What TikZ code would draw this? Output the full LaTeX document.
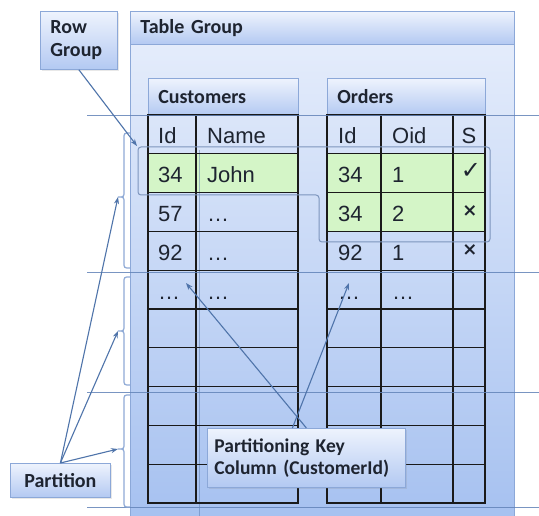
\documentclass[tikz,border=0pt]{standalone}
\usepackage{fontspec}
\setmainfont{Liberation Sans}
\newfontfamily\lblfont{Carlito}
\newfontfamily\symfont{DejaVu Sans}
\usetikzlibrary{arrows.meta,calc,shadows}
\definecolor{tgtop}{HTML}{E4ECFB}
\definecolor{tgbot}{HTML}{A6C1F0}
\definecolor{hdrtop}{HTML}{EEF3FD}
\definecolor{hdrbot}{HTML}{B3C9F2}
\definecolor{boxline}{HTML}{8CA8D8}
\definecolor{linkblue}{HTML}{4F74AA}
\definecolor{partblue}{HTML}{6283B8}
\definecolor{bracecol}{HTML}{8FAAD6}
\definecolor{rowgreen}{HTML}{D4F5C7}
\definecolor{gridcol}{HTML}{1A1A1A}
\definecolor{txtcol}{HTML}{1E2430}
\definecolor{rgline}{HTML}{7D95BD}
\tikzset{
  lblbox/.style={draw=boxline, line width=0.8pt, top color=hdrtop, bottom color=hdrbot,
    font=\lblfont\bfseries\fontsize{20}{23}\selectfont, text=txtcol, align=left,
    anchor=north west, inner xsep=10pt, inner ysep=0pt,
    drop shadow={opacity=0.18, shadow xshift=1.5pt, shadow yshift=-1.5pt}},
  hdrbox/.style={draw=boxline, line width=0.8pt, top color=hdrtop, bottom color=hdrbot,
    font=\lblfont\bfseries\fontsize{20}{23}\selectfont, text=txtcol, align=left,
    anchor=north west, inner xsep=10pt, inner ysep=0pt},
  cell/.style={font=\fontsize{22}{26}\selectfont, text=txtcol, anchor=base west, inner sep=0pt},
  symcell/.style={text=txtcol, anchor=center, inner sep=0pt},
  gridin/.style={draw=gridcol, line width=1.3pt},
  gridout/.style={draw=gridcol, line width=2.2pt},
  partline/.style={draw=partblue, line width=1pt, opacity=0.85},
  bracestyle/.style={draw=bracecol, line width=1.2pt},
  link/.style={draw=linkblue, line width=1.1pt, -{Stealth[length=7pt,width=5pt]}},
}
\begin{document}
\begin{tikzpicture}[x=1pt,y=-1pt]
\useasboundingbox (0,0) rectangle (539,516);
\fill[white] (0,0) rectangle (539,516);

% Table group
\fill[top color=tgtop, bottom color=tgbot, draw=boxline, line width=0.8pt] (130,44) rectangle (514,520);
\node[hdrbox, minimum height=33pt, text width=364pt] (tg) at (130,11) {Table Group};

% table headers
\node[hdrbox, minimum height=37pt, text width=130pt] (cust) at (148,78) {Customers};
\node[hdrbox, minimum height=37pt, text width=138pt] (ord) at (327,78) {Orders};

% green rows
\fill[rowgreen] (148,153.8) rectangle (298,192.6);
\fill[rowgreen] (327,153.8) rectangle (485,231.4);

% faint vertical line
\draw[draw=linkblue, opacity=0.45, line width=0.8pt] (199,150) -- (199,516);

% Customers grid
\foreach \i in {1,...,9} \draw[gridin] (148,{115+38.8*\i}) -- (298,{115+38.8*\i});
\draw[gridin] (196,115) -- (196,503);
\draw[gridout] (148,115) rectangle (298,503);

% Orders grid
\foreach \i in {1,...,9} \draw[gridin] (327,{115+38.8*\i}) -- (485,{115+38.8*\i});
\draw[gridin] (381,115) -- (381,503);
\draw[gridin] (453,115) -- (453,503);
\draw[gridout] (327,115) rectangle (485,503);

% Customers cells
\node[cell] (cid) at (158,144) {Id};
\node[cell] (cname) at (207,144) {Name};
\node[cell] (c1a) at (158,182.8) {34};
\node[cell] (c1b) at (207,182.8) {John};
\node[cell] (c2a) at (158,221.6) {57};
\node[cell] (c2b) at (207,221.6) {…};
\node[cell] (c3a) at (158,260.4) {92};
\node[cell] (c3b) at (207,260.4) {…};
\node[cell] (c4a) at (158,299.2) {…};
\node[cell] (c4b) at (207,299.2) {…};

% Orders cells
\node[cell] (oid) at (338,144) {Id};
\node[cell] (ooid) at (392,144) {Oid};
\node[cell, anchor=base] (os) at (469,144) {S};
\node[cell] (o1a) at (338,182.8) {34};
\node[cell] (o1b) at (392,182.8) {1};
\node[symcell, font=\symfont\bfseries\fontsize{24}{26}\selectfont] (o1c) at (471,171) {✓};
\node[cell] (o2a) at (338,221.6) {34};
\node[cell] (o2b) at (392,221.6) {2};
\node[symcell, font=\symfont\bfseries\fontsize{18}{22}\selectfont] (o2c) at (470,211) {×};
\node[cell] (o3a) at (338,260.4) {92};
\node[cell] (o3b) at (392,260.4) {1};
\node[symcell, font=\symfont\bfseries\fontsize{18}{22}\selectfont] (o3c) at (470,250.5) {×};
\node[cell] (o4a) at (338,299.2) {…};
\node[cell] (o4b) at (392,299.2) {…};

% row group outline
\draw[draw=rgline, line width=1pt, rounded corners=3pt]
  (138,147) -- (490,147) -- (490,242) -- (319,242) -- (319,195) -- (138,195) -- cycle;

% partition lines
\draw[partline] (87,116) -- (539,116);
\draw[partline] (87,273) -- (539,273);
\draw[partline] (87,392) -- (539,392);
\draw[partline] (87,507) -- (539,507);

% braces
\coordinate (b1) at (118,197);
\coordinate (b2) at (118,331);
\coordinate (b3) at (118,449);
\draw[bracestyle] (130,133) .. controls (124,133) .. (124,139) -- (124,191) .. controls (124,197) .. (118,197)
  .. controls (124,197) .. (124,203) -- (124,262) .. controls (124,268) .. (130,268);
\draw[bracestyle] (130,277) .. controls (124,277) .. (124,283) -- (124,325) .. controls (124,331) .. (118,331)
  .. controls (124,331) .. (124,337) -- (124,379) .. controls (124,385) .. (130,385);
\draw[bracestyle] (130,395) .. controls (124,395) .. (124,401) -- (124,443) .. controls (124,449) .. (118,449)
  .. controls (124,449) .. (124,455) -- (124,501) .. controls (124,507) .. (130,507);

% label boxes
\node[lblbox, minimum height=58pt, text width=57pt] (rowgroup) at (40,11) {Row\\Group};
\node[lblbox, minimum height=34pt, minimum width=100pt] (partition) at (10,463) {Partition};
\node[lblbox, minimum height=59pt, text width=184pt, inner xsep=7pt,
  font=\lblfont\bfseries\fontsize{19.5}{22}\selectfont] (pkey) at (207,428) {Partitioning Key\\Column (CustomerId)};

% arrows
\coordinate (rgtip) at (137,146);
\coordinate (pk1) at (186,283);
\coordinate (pk2) at (349,283);
\draw[link] (rowgroup.south) -- (rgtip);
\draw[link] (partition.north) -- (b1);
\draw[link] (partition.north) -- (b2);
\draw[link] (partition.north) -- (b3);
\draw[link] (pkey.north) -- (pk1);
\draw[link] ([xshift=-14pt]pkey.north) -- (pk2);
\end{tikzpicture}
\end{document}
